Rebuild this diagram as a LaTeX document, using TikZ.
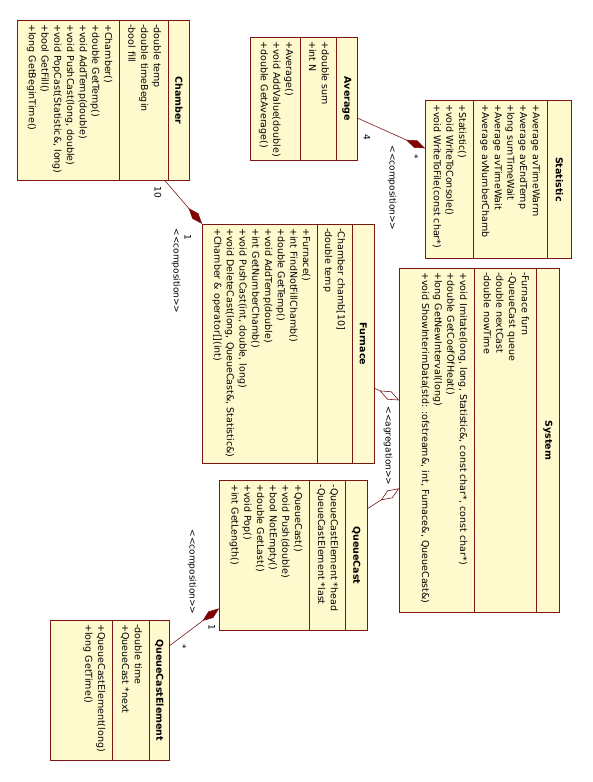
\documentclass[tikz,border=0pt]{standalone}
\usepackage{fontspec}
\setmainfont{DejaVu Sans}
\definecolor{classfill}{RGB}{255,250,205}
\definecolor{classline}{RGB}{122,22,22}
\definecolor{diamondred}{RGB}{128,0,0}
\usetikzlibrary{shapes,arrows.meta,positioning,calc}

\newcommand{\umlsize}{\fontsize{9.5}{12.7}\selectfont}
\newcommand{\stereo}[1]{<\kern0pt<#1>\kern0pt>}
\newcommand{\chead}[3]{\parbox[c][#2pt][c]{#1pt}{\umlsize\centering\bfseries #3}}
\newcommand{\cbody}[3]{\parbox[c][#2pt][t]{#1pt}{\umlsize\raggedright\leftskip=4pt\vspace*{6.5pt}#3}}

\tikzset{
  umlclass/.style={rectangle split, rectangle split parts=3, draw=classline, fill=classfill,
    line width=0.7pt, inner sep=0pt, rotate=-90, anchor=north west, font=\umlsize},
  umllabel/.style={rotate=-90, inner sep=1pt, font=\fontsize{9}{11}\selectfont},
  composition/.style={draw=classline, line width=0.6pt, -{Diamond[fill=diamondred, length=21pt, width=8pt]}},
  aggregation/.style={draw=classline, line width=0.6pt, -{Diamond[open, length=22pt, width=9pt]}},
}

\begin{document}
\begin{tikzpicture}[x=1pt, y=-1pt]
  \fill[white] (0,0) rectangle (592,782);
  \useasboundingbox (0,0) rectangle (592,782);

  % classes (drawn turned, header on the right)
  \node[umlclass] (chamber) at (190,20) {
    \chead{160}{21}{Chamber}
    \nodepart{two}\cbody{160}{48}{-double temp\\-double timeBegin\\-bool fill}
    \nodepart{three}\cbody{160}{101}{+Chamber()\\+double GetTemp()\\+void AddTemp(double)\\+void PushCast(long, double)\\+void PopCast(Statistic\&, long)\\+bool GetFill()\\+long GetBeginTime()}
  };
  \node[umlclass] (average) at (358,37) {
    \chead{123}{21}{Average}
    \nodepart{two}\cbody{123}{35}{+double sum\\+int N}
    \nodepart{three}\cbody{123}{49}{+Average()\\+void AddValue(double)\\+double GetAverage()}
  };
  \node[umlclass] (statistic) at (572,100) {
    \chead{158}{24}{Statistic}
    \nodepart{two}\cbody{158}{73}{+Average avTimeWarm\\+Average avEndTemp\\+long sumTimeWait\\+Average avTimeWait\\+Average avNumberChamb}
    \nodepart{three}\cbody{158}{47}{+Statistic()\\+void WriteToConsole()\\+void WriteToFile(const char*)}
  };
  \node[umlclass] (furnace) at (375,224) {
    \chead{239}{22}{Furnace}
    \nodepart{two}\cbody{239}{34}{-Chamber chamb[10]\\-double temp}
    \nodepart{three}\cbody{239}{114}{+Furnace()\\+int FindNotFillChamb()\\+double GetTemp()\\+void AddTemp(double)\\+int GetNumberChamb()\\+void PushCast(int, double, long)\\+void DeleteCast(long, QueueCast\&, Statistic\&)\\+Chamber \& operator[](int)}
  };
  \node[umlclass] (system) at (560,268) {
    \chead{344}{23}{System}
    \nodepart{two}\cbody{344}{61}{-Furnace furn\\-QueueCast queue\\-double nextCast\\-double nowTime}
    \nodepart{three}\cbody{344}{74}{+void Imitate(long, long, Statistic\&, const char*, const char*)\\+double GetCoefOfHeat()\\+long GetNewInterval(long)\\+void ShowInterimData(std: :ofstream\&, int, Furnace\&, QueueCast\&)}
  };
  \node[umlclass] (queuecast) at (368,480) {
    \chead{150}{22}{QueueCast}
    \nodepart{two}\cbody{150}{35}{-QueueCastElement *head\\-QueueCastElement *last}
    \nodepart{three}\cbody{150}{89}{+QueueCast()\\+void Push(double)\\+bool NotEmpty()\\+double GetLast()\\+void Pop()\\+int GetLength()}
  };
  \node[umlclass] (element) at (170,620) {
    \chead{140}{20}{QueueCastElement}
    \nodepart{two}\cbody{140}{36}{-double time\\+QueueCast *next}
    \nodepart{three}\cbody{140}{61}{+QueueCastElement(long)\\+long GetTime()}
  };

  % relations
  \draw[composition] ([xshift=-25pt]chamber.north east) -- (furnace.south west);
  \draw[composition] ([yshift=-19.5pt]average.north) -- ([yshift=31pt]statistic.south);
  \draw[aggregation] ([yshift=-44.5pt]furnace.north) -- ([yshift=40pt]system.south);
  \draw[aggregation] ([yshift=47pt]queuecast.north) -- ([yshift=-48pt]system.south);
  \draw[composition] ([yshift=45pt]element.north) -- ([yshift=-53pt]queuecast.south);

  % labels
  \node[umllabel] (chambmult) at (158,192) {10};
  \node[umllabel] (furnmult) at (188,237) {1};
  \node[umllabel] (chambrole) at (176,271) {\stereo{composition}};
  \node[umllabel] (avmult) at (367,137) {4};
  \node[umllabel] (statmult) at (415,157) {*};
  \node[umllabel] (statrole) at (392,188) {\stereo{composition}};
  \node[umllabel] (sysrole) at (388,446) {\stereo{agregation}};
  \node[umllabel] (queuemult) at (212,627) {1};
  \node[umllabel] (elemmult) at (183,647) {*};
  \node[umllabel] (elemrole) at (192,572) {\stereo{composition}};
\end{tikzpicture}
\end{document}
